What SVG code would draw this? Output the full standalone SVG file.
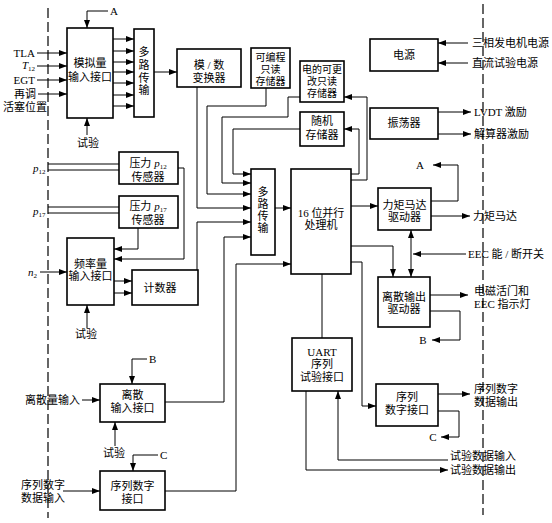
<svg xmlns="http://www.w3.org/2000/svg" width="552" height="523" viewBox="0 0 552 523">
<style>
.box{fill:#fff;stroke:#000;stroke-width:1.6}
.ln{fill:none;stroke:#000;stroke-width:1}
.ar{marker-end:url(#ah)}
.dash{fill:none;stroke:#000;stroke-width:1.2;stroke-dasharray:10 4}
text{font-family:"Liberation Serif","Noto Sans CJK SC",serif;font-size:11px;fill:#000}
.c{text-anchor:middle}
.e{text-anchor:end}
.i{font-style:italic}
.s{font-size:7px}
.sm{font-size:10px}
</style>
<defs>
<marker id="ah" markerUnits="userSpaceOnUse" markerWidth="8" markerHeight="6" refX="8" refY="3" orient="auto"><path d="M0,0 L8,3 L0,6 z" fill="#000"/></marker>
</defs>
<rect width="552" height="523" fill="#fff"/>
<g id="boundaries">
<path class="dash" d="M48,8 V518"/>
<path class="dash" d="M483,4 V515"/>
</g>
<g id="connectors">
<path class="ln ar" d="M37,53 H67"/>
<path class="ln ar" d="M37,66 H67"/>
<path class="ln ar" d="M37,80 H67"/>
<path class="ln ar" d="M38,94 H67"/>
<path class="ln ar" d="M108,11 H87 V28"/>
<path class="ln ar" d="M87,135 V118"/>
<path class="ln ar" d="M113,39 H134"/>
<path class="ln ar" d="M113,51 H134"/>
<path class="ln ar" d="M113,62 H134"/>
<path class="ln ar" d="M113,72 H134"/>
<path class="ln ar" d="M113,83 H134"/>
<path class="ln ar" d="M113,95 H134"/>
<path class="ln ar" d="M113,106 H134"/>
<path class="ln ar" d="M154,72 H177"/>
<path class="ln ar" d="M197,87 V208 H251"/>
<path class="ln ar" d="M266,88 V106 H207 V194 H251"/>
<path class="ln ar" d="M300,97 H288 V117 H222 V183 H251"/>
<path class="ln ar" d="M300,129 H233 V174 H251"/>
<path class="ln ar" d="M197,270 V222 H251"/>
<path class="ln ar" d="M165,402 H224 V237 H251"/>
<path class="ln ar" d="M275,208 H291"/>
<path class="ln ar" d="M165,491 H236 V264 H291"/>
<path class="ln" d="M48,164 H119 M48,170 H119 M48,207 H119 M48,213 H119"/>
<path class="ln ar" d="M178,168 H184 V259 H114"/>
<path class="ln ar" d="M138,228 V249 H114"/>
<path class="ln ar" d="M40,272 H67"/>
<path class="ln ar" d="M114,281 H132"/>
<path class="ln ar" d="M114,293 H132"/>
<path class="ln ar" d="M87,328 V305"/>
<path class="ln ar" d="M147,359 H132 V384"/>
<path class="ln ar" d="M82,400 H100"/>
<path class="ln ar" d="M115,446 V422"/>
<path class="ln ar" d="M158,455 H133 V471"/>
<path class="ln ar" d="M63,491 H100"/>
<path class="ln ar" d="M351,180 H367 V97 H344"/>
<path class="ln ar" d="M351,174 H359 V129 H344"/>
<path class="ln ar" d="M351,206 H378"/>
<path class="ln ar" d="M351,246 H393 V277"/>
<path class="ln ar" d="M351,262 H362 V406 H376"/>
<path class="ln" d="M322,274 V338"/>
<path class="ln ar" d="M466,254 H413"/>
<path class="ln ar" d="M411,254 V230"/>
<path class="ln ar" d="M411,254 V277"/>
<path class="ln ar" d="M431,201 H458 V165 H433"/>
<path class="ln ar" d="M431,216 H470"/>
<path class="ln ar" d="M430,295 H468"/>
<path class="ln ar" d="M430,311 H460 V340 H432"/>
<path class="ln ar" d="M438,394 H470"/>
<path class="ln ar" d="M438,411 H459 V437 H441"/>
<path class="ln ar" d="M448,460 H338 V391"/>
<path class="ln ar" d="M306,391 V470 H448"/>
<path class="ln ar" d="M468,43 H438"/>
<path class="ln ar" d="M468,63 H438"/>
<path class="ln ar" d="M438,112 H471"/>
<path class="ln ar" d="M438,134 H471"/>
</g>
<g id="labels">
<text x="35" y="57" class="e">TLA</text>
<text x="35" y="69" class="e"><tspan class="i">T</tspan><tspan class="s" dy="2">12</tspan></text>
<text x="35" y="84" class="e">EGT</text>
<text x="25" y="98" class="c">再调</text>
<text x="25" y="111" class="c">活塞位置</text>
<text x="110" y="15">A</text>
<text x="88" y="147" class="c">试验</text>
<text x="33" y="172"><tspan class="i">p</tspan><tspan class="s" dy="2">12</tspan></text>
<text x="33" y="215"><tspan class="i">p</tspan><tspan class="s" dy="2">17</tspan></text>
<text x="28" y="276"><tspan class="i">n</tspan><tspan class="s" dy="2">2</tspan></text>
<text x="86" y="338" class="c">试验</text>
<text x="149" y="363">B</text>
<text x="80" y="404" class="e">离散量输入</text>
<text x="114" y="457" class="c">试验</text>
<text x="160" y="459">C</text>
<text x="43" y="489" class="c">序列数字</text>
<text x="43" y="502" class="c">数据输入</text>
<text x="472" y="47">三相发电机电源</text>
<text x="472" y="67">直流试验电源</text>
<text x="474" y="116">LVDT 激励</text>
<text x="474" y="138">解算器激励</text>
<text x="420" y="169" class="c">A</text>
<text x="473" y="220">力矩马达</text>
<text x="468" y="258">EEC 能 / 断开关</text>
<text x="474" y="295">电磁活门和</text>
<text x="474" y="308">EEC 指示灯</text>
<text x="423" y="344" class="c">B</text>
<text x="474" y="393">序列数字</text>
<text x="474" y="406">数据输出</text>
<text x="433" y="441" class="c">C</text>
<text x="450" y="460">试验数据输入</text>
<text x="450" y="474">试验数据输出</text>
</g>
<g id="analog"><rect class="box" x="67" y="28" width="46" height="90"/><text x="90" y="67" class="c">模拟量</text><text x="90" y="81" class="c">输入接口</text></g>
<g id="mux1"><rect class="box" x="134" y="29" width="20" height="88"/><text x="144" y="56" class="c">多</text><text x="144" y="69" class="c">路</text><text x="144" y="82" class="c">传</text><text x="144" y="94" class="c">输</text></g>
<g id="adc"><rect class="box" x="177" y="49" width="64" height="38"/><text x="209" y="69" class="c">模 / 数</text><text x="209" y="82" class="c">变换器</text></g>
<g id="prom"><rect class="box" x="251" y="48" width="39" height="40"/><text x="270.5" y="61" class="c sm">可编程</text><text x="270.5" y="73" class="c sm">只读</text><text x="270.5" y="85" class="c sm">存储器</text></g>
<g id="eeprom"><rect class="box" x="300" y="61" width="44" height="41"/><text x="322" y="73" class="c sm">电的可更</text><text x="322" y="85" class="c sm">改只读</text><text x="322" y="97" class="c sm">存储器</text></g>
<g id="ram"><rect class="box" x="300" y="112" width="44" height="34"/><text x="322" y="125" class="c">随机</text><text x="322" y="139" class="c">存储器</text></g>
<g id="power"><rect class="box" x="370" y="39" width="68" height="32"/><text x="404" y="59" class="c">电源</text></g>
<g id="osc"><rect class="box" x="370" y="108" width="68" height="31"/><text x="404" y="127" class="c">振荡器</text></g>
<g id="p12"><rect class="box" x="119" y="152" width="59" height="32"/><text x="148" y="167" class="c">压力 <tspan class="i">p</tspan><tspan class="s" dy="2">12</tspan></text><text x="148" y="181" class="c">传感器</text></g>
<g id="p17"><rect class="box" x="119" y="196" width="59" height="32"/><text x="148" y="210" class="c">压力 <tspan class="i">p</tspan><tspan class="s" dy="2">17</tspan></text><text x="148" y="224" class="c">传感器</text></g>
<g id="freq"><rect class="box" x="67" y="238" width="47" height="67"/><text x="90.5" y="268" class="c">频率量</text><text x="90.5" y="280" class="c">输入接口</text></g>
<g id="counter"><rect class="box" x="132" y="270" width="66" height="35"/><text x="160" y="292" class="c">计数器</text></g>
<g id="mux2"><rect class="box" x="251" y="169" width="24" height="86"/><text x="263" y="196" class="c">多</text><text x="263" y="208" class="c">路</text><text x="263" y="220" class="c">传</text><text x="263" y="232" class="c">输</text></g>
<g id="cpu"><rect class="box" x="291" y="169" width="60" height="105"/><text x="321" y="217" class="c">16 位并行</text><text x="321" y="229" class="c">处理机</text></g>
<g id="uart"><rect class="box" x="292" y="338" width="60" height="53"/><text x="322" y="356" class="c">UART</text><text x="322" y="368" class="c">序列</text><text x="322" y="381" class="c">试验接口</text></g>
<g id="torque"><rect class="box" x="378" y="188" width="53" height="42"/><text x="404.5" y="209" class="c">力矩马达</text><text x="404.5" y="221" class="c">驱动器</text></g>
<g id="dout"><rect class="box" x="378" y="277" width="52" height="50"/><text x="404" y="301" class="c">离散输出</text><text x="404" y="313" class="c">驱动器</text></g>
<g id="sdo"><rect class="box" x="376" y="384" width="62" height="42"/><text x="407" y="401" class="c">序列</text><text x="407" y="414" class="c">数字接口</text></g>
<g id="din"><rect class="box" x="100" y="384" width="65" height="38"/><text x="132.5" y="399" class="c">离散</text><text x="132.5" y="412" class="c">输入接口</text></g>
<g id="sdi"><rect class="box" x="100" y="471" width="65" height="39"/><text x="132.5" y="490" class="c">序列数字</text><text x="132.5" y="503" class="c">接口</text></g>
</svg>
